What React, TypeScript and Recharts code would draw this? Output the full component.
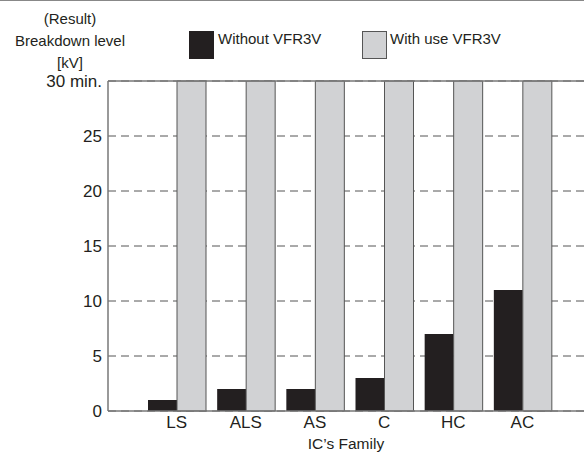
import React from 'react';
import { BarChart, Bar, XAxis, YAxis, CartesianGrid, ReferenceLine } from 'recharts';

const families = ['LS', 'ALS', 'AS', 'C', 'HC', 'AC'];
const withoutVfr = [1, 2, 2, 3, 7, 11];
const withVfr = [30, 30, 30, 30, 30, 30];
const yTicks = [0, 5, 10, 15, 20, 25, 30];

const data = families.map((family, i) => ({
  family,
  without: withoutVfr[i],
  withUse: withVfr[i],
}));

const font = '"Liberation Sans", Arial, sans-serif';
const textColor = '#231f20';

export default function App() {
  return (
    <div style={{ position: 'absolute', left: 0, top: 0, width: 584, height: 454, background: '#fff', fontFamily: font, overflow: 'hidden' }}>
      <div style={{ position: 'absolute', left: 0, top: 0, width: 584, height: 1, background: '#888' }} />

      {/* y axis title */}
      <div style={{ position: 'absolute', left: 0, top: 8, width: 140, textAlign: 'center', fontSize: 15, lineHeight: '22px', color: textColor }}>
        <div>(Result)</div>
        <div>Breakdown level</div>
        <div>[kV]</div>
      </div>

      {/* legend */}
      <div style={{ position: 'absolute', left: 189, top: 31, width: 25, height: 28, background: '#231f20' }} />
      <div style={{ position: 'absolute', left: 218, top: 30, fontSize: 15, color: textColor }}>Without VFR3V</div>
      <div style={{ position: 'absolute', left: 362, top: 31, width: 23, height: 26, background: '#d1d2d4', border: '1px solid #555' }} />
      <div style={{ position: 'absolute', left: 390, top: 30, fontSize: 15, color: textColor }}>With use VFR3V</div>

      <BarChart
        width={604}
        height={454}
        data={data}
        margin={{ top: 81, right: 0, bottom: 0, left: 0 }}
        barCategoryGap={6}
        barGap={0}
        style={{ fontFamily: font }}
      >
        <CartesianGrid vertical={false} stroke="#555" strokeDasharray="8 5" />
        <XAxis
          dataKey="family"
          height={43}
          padding={{ left: 34, right: 47 }}
          axisLine={{ stroke: '#777', strokeWidth: 1.5 }}
          tickLine={false}
          tickSize={0}
          tickMargin={5}
          tick={{ fontSize: 17, fill: textColor }}
          interval={0}
          label={{ value: 'IC\u2019s Family', position: 'insideBottom', offset: 5, fontSize: 15.5, fill: textColor, dx: -10 }}
        />
        <YAxis
          width={108}
          domain={[0, 30]}
          ticks={yTicks}
          interval={0}
          axisLine={{ stroke: '#777', strokeWidth: 1.5 }}
          tickLine={false}
          tickSize={0}
          tickMargin={6}
          tick={{ fontSize: 17, fill: textColor }}
          tickFormatter={(v: number) => (v === 30 ? '30 min.' : String(v))}
        />
        <Bar dataKey="without" fill="#231f20" isAnimationActive={false} />
        <Bar dataKey="withUse" fill="#d1d2d4" stroke="#555" strokeWidth={1} isAnimationActive={false} />
        <ReferenceLine y={30} stroke="#777" strokeWidth={1.5} />
      </BarChart>
    </div>
  );
}
